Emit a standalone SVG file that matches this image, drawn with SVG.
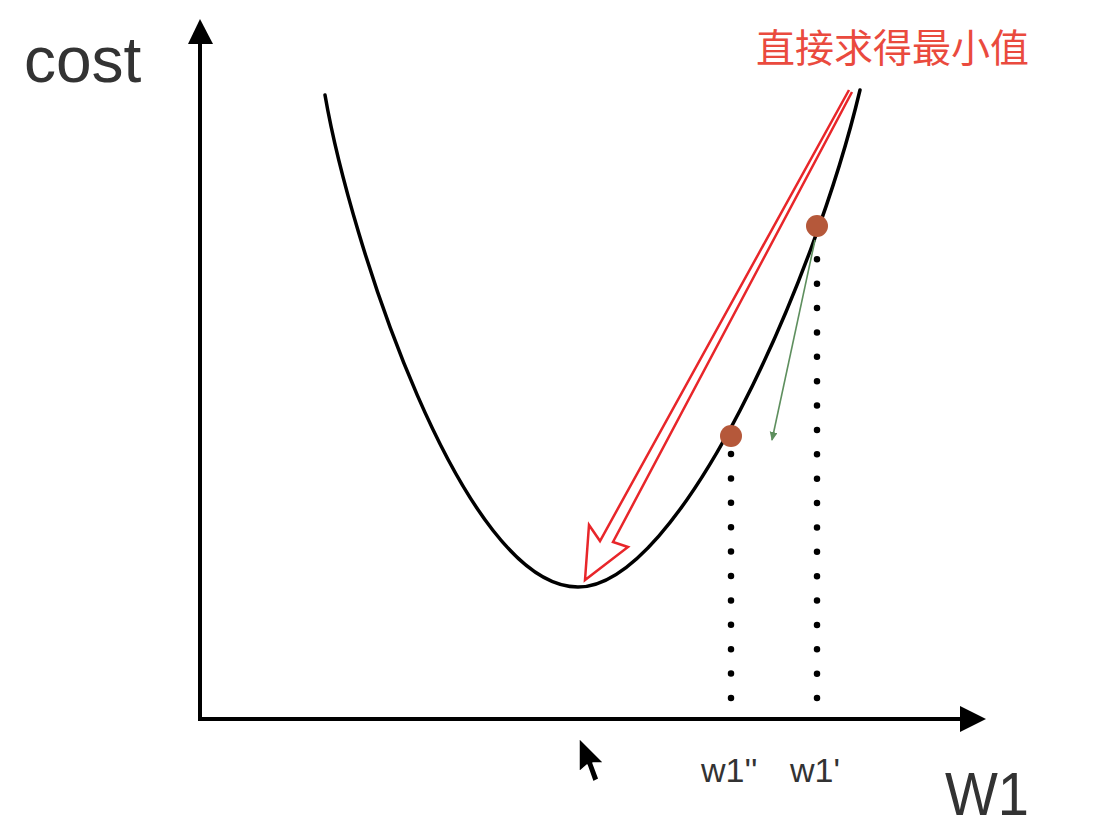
<svg xmlns="http://www.w3.org/2000/svg" width="1095" height="840" viewBox="0 0 1095 840">
  <defs>
    <style>
      .axis { stroke: #000; stroke-width: 4; fill: none; }
      .curve { stroke: #000; stroke-width: 3.5; fill: none; stroke-linecap: round; }
      .dots { stroke: #000; stroke-width: 6.5; stroke-linecap: round; fill: none; }
      .pt { fill: #b5583a; }
      .lbl { font-family: "Liberation Sans", Arial, sans-serif; fill: #333; }
      .cjk { font-family: "Noto Sans CJK SC", sans-serif; fill: #ea4a3e; }
    </style>
    <marker id="green-head" markerWidth="10" markerHeight="10" refX="8" refY="4" orient="auto" markerUnits="userSpaceOnUse">
      <path d="M0,0 L9,4 L0,8 Z" fill="#5e8f5e"/>
    </marker>
  </defs>
  <rect width="1095" height="840" fill="#fff"/>

  <g id="axes">
    <path class="axis" d="M200 43 V719 H962"/>
    <path d="M200 19 L188 44 L213 44 Z" fill="#000"/>
    <path d="M986 719 L960 706 L960 732 Z" fill="#000"/>
  </g>

  <g id="curve">
    <path class="curve" d="M325 95 C350 240 462 587 578 587 C680 587 815 280 860 90"/>
  </g>

  <g id="connectors">
    <path class="dots" d="M817 698 V235" stroke-dasharray="0 24.37"/>
    <path class="dots" d="M731 698 V454" stroke-dasharray="0 24.4"/>
    <line x1="815" y1="240" x2="772" y2="440" stroke="#5e8f5e" stroke-width="1.6" marker-end="url(#green-head)"/>
    <path d="M849 90 L600 541 L589 525 L585 580 L628 547 L613 542 L852 92" fill="none" stroke="#e8262a" stroke-width="2.5" stroke-linejoin="miter"/>
  </g>

  <g id="point-w1p">
    <circle class="pt" cx="817" cy="226" r="11"/>
  </g>
  <g id="point-w1pp">
    <circle class="pt" cx="731" cy="436" r="11"/>
  </g>

  <g id="labels">
    <text class="lbl" x="24" y="82" font-size="64">cost</text>
    <text class="lbl" x="945" y="815" font-size="61" textLength="84" lengthAdjust="spacingAndGlyphs">W1</text>
    <text class="lbl" x="701" y="782" font-size="34">w1''</text>
    <text class="lbl" x="790" y="782" font-size="34">w1'</text>
    <text class="cjk" x="756" y="62" font-size="39">直接求得最小值</text>
  </g>

  <g id="cursor">
    <path d="M579 738 L579 772 L587 765 L593 782 L599 779 L593 763 L604 763 Z" fill="#000" stroke="#fff" stroke-width="1.5" stroke-linejoin="round"/>
  </g>
</svg>
